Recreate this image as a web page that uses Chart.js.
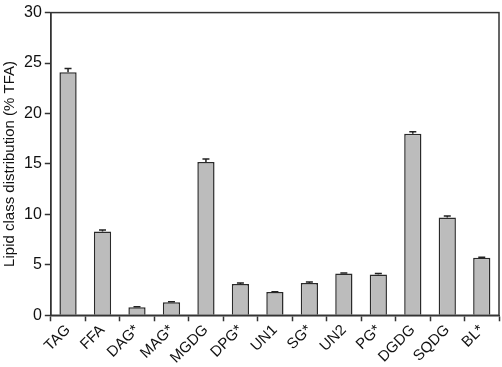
<!DOCTYPE html>
<html lang="en">
<head>
    <meta charset="UTF-8">
    <title>Lipid class distribution</title>
    <style>
        body { margin: 0; background: #fff; }
        #wrap { width: 502px; height: 367px; }
    </style>
    <script src="https://cdn.jsdelivr.net/npm/chart.js"></script>
</head>
<body>
    <div id="wrap"><canvas id="lipidChart"></canvas></div>
    <script>
        const lipidClasses = ['TAG', 'FFA', 'DAG*', 'MAG*', 'MGDG', 'DPG*', 'UN1', 'SG*', 'UN2', 'PG*', 'DGDG', 'SQDG', 'BL*'];
        const meanValues = [24.1, 8.3, 0.8, 1.3, 15.2, 3.1, 2.3, 3.2, 4.15, 4.05, 18.0, 9.7, 5.7];
        const errValues = [0.35, 0.15, 0.05, 0.05, 0.3, 0.1, 0.03, 0.1, 0.05, 0.08, 0.2, 0.15, 0.05];
        const yTicks = [0, 5, 10, 15, 20, 25, 30];

        // upper error bars + frame around plot
        const errorBars = {
            id: 'errorBars',
            afterDatasetsDraw(chart) {
                const ctx = chart.ctx;
                const xs = chart.scales.x, ys = chart.scales.y;
                ctx.save();
                ctx.strokeStyle = '#222';
                ctx.lineWidth = 1.5;
                meanValues.forEach((v, i) => {
                    const x = xs.getPixelForValue(i);
                    const y0 = ys.getPixelForValue(v);
                    const y1 = ys.getPixelForValue(v + errValues[i]);
                    ctx.beginPath();
                    ctx.moveTo(x, y0);
                    ctx.lineTo(x, y1);
                    ctx.moveTo(x - 3.5, y1);
                    ctx.lineTo(x + 3.5, y1);
                    ctx.stroke();
                });
                const a = chart.chartArea;
                ctx.strokeStyle = '#333';
                ctx.lineWidth = 1.5;
                ctx.strokeRect(a.left, a.top, a.right - a.left, a.bottom - a.top);
                ctx.restore();
            }
        };

        new Chart(document.getElementById('lipidChart'), {
            type: 'bar',
            data: {
                labels: lipidClasses,
                datasets: [{
                    data: meanValues,
                    backgroundColor: '#bcbcbc',
                    borderColor: '#2a2a2a',
                    borderWidth: 1.5,
                    barPercentage: 0.5,
                    categoryPercentage: 1
                }]
            },
            options: {
                responsive: true,
                maintainAspectRatio: false,
                animation: false,
                layout: { padding: { top: 9, right: 3, left: 1, bottom: 0 } },
                plugins: { legend: { display: false }, tooltip: { enabled: false } },
                scales: {
                    x: {
                        offset: true,
                        grid: { offset: true, drawOnChartArea: false, tickLength: 6, color: '#333', tickWidth: 1.5 },
                        border: { color: '#333', width: 1.5 },
                        ticks: {
                            color: '#111',
                            font: { family: 'Liberation Sans, Arial, sans-serif', size: 15 },
                            minRotation: 45,
                            maxRotation: 45,
                            autoSkip: false,
                            padding: 0
                        }
                    },
                    y: {
                        min: 0,
                        max: 30,
                        afterBuildTicks: (scale) => { scale.ticks = yTicks.map(v => ({ value: v })); },
                        grid: { drawOnChartArea: false, tickLength: 6, color: '#333', tickWidth: 1.5 },
                        border: { color: '#333', width: 1.5 },
                        ticks: {
                            color: '#111',
                            font: { family: 'Liberation Sans, Arial, sans-serif', size: 16 },
                            padding: 3
                        },
                        title: {
                            display: true,
                            text: 'Lipid class distribution (% TFA)',
                            color: '#111',
                            font: { family: 'Liberation Sans, Arial, sans-serif', size: 15 },
                            padding: { top: 0, bottom: 2 }
                        }
                    }
                }
            },
            plugins: [errorBars]
        });
    </script>
</body>
</html>
